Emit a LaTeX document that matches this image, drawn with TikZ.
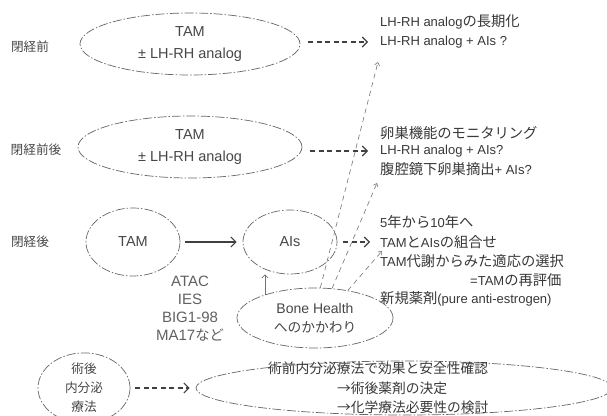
\documentclass[tikz,border=0pt]{standalone}
\usepackage{fontspec}
\setmainfont{Liberation Sans}
\newfontfamily\jp[Scale=1.1]{Noto Sans CJK JP}
\usetikzlibrary{shapes.geometric,arrows.meta}
\begin{document}
\begin{tikzpicture}[x=1pt,y=-1pt,
  ell/.style={ellipse, draw=black!60, line width=0.7pt, dash pattern=on 9pt off 2pt on 1.5pt off 2pt,
    inner sep=0pt, align=center, text=black!72, font=\fontsize{14.5}{22}\selectfont},
  lab/.style={text=black!72, font=\jp\fontsize{11.5}{14}\selectfont, inner sep=0pt},
  rt/.style={anchor=west, text=black!78, font=\fontsize{13}{15}\selectfont, inner sep=0pt},
  grp/.style={text=black!62, font=\fontsize{15}{19}\selectfont, inner sep=0pt},
  darr/.style={draw=black!75, line width=1.2pt, dash pattern=on 5pt off 3.5pt,
    -{Straight Barb[length=5pt,width=10pt,line width=1.1pt]}},
  sarr/.style={draw=black!75, line width=1.1pt, -{Straight Barb[length=5pt,width=10pt]}},
  fline/.style={draw=black!55, line width=0.6pt, dash pattern=on 5pt off 4pt,
    -{Straight Barb[length=3pt,width=5pt]}},
  tarr/.style={draw=black!55, line width=0.7pt, -{Straight Barb[length=3pt,width=6pt]}},
]
\useasboundingbox[fill=white] (0,0) rectangle (607,415);

% left labels
\node[lab] (l1) at (30,47) {閉経前};
\node[lab] (l2) at (36,150) {閉経前後};
\node[lab] (l3) at (30,242) {閉経後};

% row 1
\node[ell, minimum width=220pt, minimum height=62pt] (e1) at (190,44) {TAM\\± LH-RH analog};
\node[rt] (r1a) at (380,22) {LH-RH analog{\jp の長期化}};
\node[rt] (r1b) at (380,42) {LH-RH analog + AIs ?};
\draw[darr] ([xshift=8pt]e1.east |- r1b.west) -- ([xshift=-12pt]r1b.west);

% row 2
\node[ell, minimum width=224pt, minimum height=62pt] (e2) at (190,147) {TAM\\± LH-RH analog};
\node[rt] (r2a) at (380,133) {\jp 卵巣機能のモニタリング};
\node[rt] (r2b) at (380,151) {LH-RH analog + AIs?};
\node[rt] (r2c) at (380,169) {{\jp 腹腔鏡下卵巣摘出}+ AIs?};
\draw[darr] ([xshift=8pt]e2.east |- r2b.west) -- ([xshift=-12pt]r2b.west);

% row 3
\node[ell, minimum width=94pt, minimum height=68pt] (tam) at (133,242) {TAM};
\node[ell, minimum width=94pt, minimum height=64pt] (ais) at (290,242) {AIs};
\draw[sarr] ([xshift=5pt]tam.east) -- ([xshift=-6pt]ais.west);
\node[rt] (r3a) at (380,222) {5{\jp 年から}10{\jp 年へ}};
\node[rt] (r3b) at (380,242) {TAM{\jp と}AIs{\jp の組合せ}};
\node[rt] (r3c) at (380,261) {TAM{\jp 代謝からみた適応の選択}};
\node[rt] (r3d) at (470,280) {=TAM{\jp の再評価}};
\node[rt] (r3e) at (380,299) {{\jp 新規薬剤}(pure anti-estrogen)};
\draw[darr] ([xshift=6pt]ais.east) -- ([xshift=-10pt]r3b.west);

% trials
\node[grp] (g1) at (190,281) {ATAC};
\node[grp] (g2) at (190,299) {IES};
\node[grp] (g3) at (190,317) {BIG1-98};
\node[grp] (g4) at (190,335) {MA17{\jp\fontsize{13}{15}\selectfont など}};

% bone health
\node[ell, minimum width=156pt, minimum height=60pt, font=\fontsize{14}{19}\selectfont] (bh) at (315,318)
  {Bone Health\\{\jp\fontsize{12.5}{15}\selectfont へのかかわり}};
\coordinate (ta) at (378,62);
\coordinate (tb) at (377,183);
\coordinate (tc) at (382,251);
\draw[fline] (bh.80) -- (ta);
\draw[fline] (bh.60) -- (tb);
\draw[fline] (bh.40) -- (tc);
\draw[tarr] (bh.155) -- (bh.155 |- ais.south);

% bottom row
\node[ell, minimum width=92pt, minimum height=68pt, font=\jp\fontsize{11.5}{19}\selectfont] (po) at (84,388) {術後\\内分泌\\療法};
\node[ell, minimum width=416pt, minimum height=54pt] (pre) at (404,388) {};
\draw[darr] ([xshift=5pt]po.east) -- ([xshift=-6pt]pre.west);
\node[rt, font=\jp\fontsize{12.5}{15}\selectfont] (p1) at (268,368) {術前内分泌療法で効果と安全性確認};
\node[rt, font=\jp\fontsize{12.5}{15}\selectfont] (p2) at (337,388) {→術後薬剤の決定};
\node[rt, font=\jp\fontsize{12.5}{15}\selectfont] (p3) at (337,407) {→化学療法必要性の検討};
\end{tikzpicture}
\end{document}
